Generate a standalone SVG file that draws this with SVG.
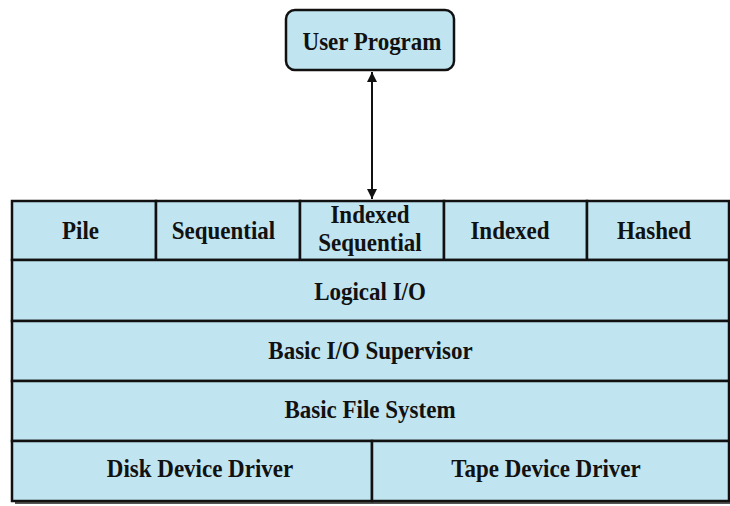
<svg xmlns="http://www.w3.org/2000/svg" width="730" height="506" viewBox="0 0 730 506">
<style>
.box{fill:#c1e5f0;stroke:#111;stroke-width:2.5}
.ln{stroke:#111;stroke-width:2;fill:none}
.t{font-family:"Liberation Serif","Times New Roman",serif;font-weight:bold;font-size:23px;fill:#111;text-anchor:middle}
</style>
<defs>
<marker id="ah" viewBox="0 0 10 10" refX="10" refY="5" markerWidth="10" markerHeight="10" markerUnits="userSpaceOnUse" orient="auto-start-reverse">
<path d="M0,0 L10,5 L0,10 z" fill="#111"/>
</marker>
</defs>
<g id="shadow"><rect x="15" y="204" width="716" height="300" fill="#555"/></g>
<g id="user-program">
<rect class="box" x="286" y="10" width="168" height="60" rx="9"/>
<text class="t" transform="translate(372,50) scale(1,1.1)">User Program</text>
</g>
<g id="pile"><rect class="box" x="12" y="201" width="144" height="59"/><text class="t" transform="translate(80.5,239) scale(1,1.1)">Pile</text></g>
<g id="sequential"><rect class="box" x="156" y="201" width="144" height="59"/><text class="t" transform="translate(223.5,239) scale(1,1.1)">Sequential</text></g>
<g id="indexed-sequential"><rect class="box" x="300" y="201" width="144" height="59"/><text class="t" transform="translate(370,223) scale(1,1.1)">Indexed</text><text class="t" transform="translate(370,251) scale(1,1.1)">Sequential</text></g>
<g id="indexed"><rect class="box" x="444" y="201" width="143" height="59"/><text class="t" transform="translate(510,239) scale(1,1.1)">Indexed</text></g>
<g id="hashed"><rect class="box" x="587" y="201" width="142" height="59"/><text class="t" transform="translate(654,239) scale(1,1.1)">Hashed</text></g>
<g id="logical-io"><rect class="box" x="12" y="260" width="717" height="61"/><text class="t" transform="translate(370,300) scale(1,1.1)">Logical I/O</text></g>
<g id="basic-io-supervisor"><rect class="box" x="12" y="321" width="717" height="60"/><text class="t" transform="translate(370.5,359) scale(1,1.1)">Basic I/O Supervisor</text></g>
<g id="basic-file-system"><rect class="box" x="12" y="381" width="717" height="60"/><text class="t" transform="translate(370,418) scale(1,1.1)">Basic File System</text></g>
<g id="disk-device-driver"><rect class="box" x="12" y="441" width="360" height="60"/><text class="t" transform="translate(200,477) scale(1,1.1)">Disk Device Driver</text></g>
<g id="tape-device-driver"><rect class="box" x="372" y="441" width="357" height="60"/><text class="t" transform="translate(546,477) scale(1,1.1)">Tape Device Driver</text></g>
<g id="connectors">
<line class="ln" x1="372" y1="72" x2="372" y2="199" marker-start="url(#ah)" marker-end="url(#ah)"/>
</g>
</svg>
